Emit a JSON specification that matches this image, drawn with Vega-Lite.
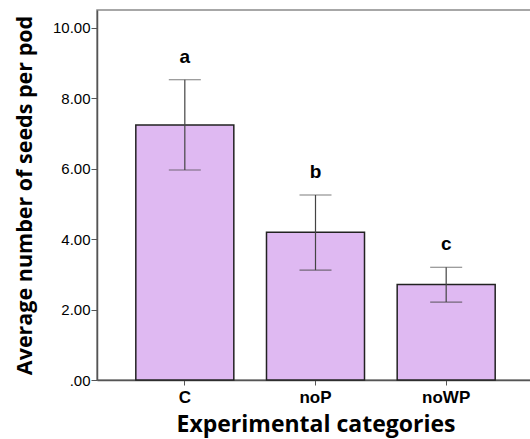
{
  "$schema": "https://vega.github.io/schema/vega-lite/v6.json",
  "autosize": {"type": "none"},
  "padding": {"left": 97, "top": 10, "right": 0, "bottom": 59},
  "width": 437,
  "height": 370,
  "background": "white",
  "config": {
    "view": {"stroke": "#8a8a8a", "strokeWidth": 1.5},
    "axis": {"grid": false}
  },
  "data": {
    "values": [
      {"category": "C", "mean": 7.24, "lo": 5.96, "hi": 8.52, "letter": "a"},
      {"category": "noP", "mean": 4.19, "lo": 3.12, "hi": 5.25, "letter": "b"},
      {"category": "noWP", "mean": 2.71, "lo": 2.21, "hi": 3.2, "letter": "c"}
    ]
  },
  "encoding": {
    "x": {
      "field": "category",
      "type": "nominal",
      "sort": null,
      "scale": {"paddingInner": 0.25, "paddingOuter": 0.297},
      "axis": {
        "title": "Experimental categories",
        "titleFont": "Open Sans",
        "titleFontWeight": "bold",
        "titleFontSize": 23,
        "titleColor": "black",
        "titlePadding": 8,
        "labelAngle": 0,
        "labelFont": "Liberation Sans",
        "labelFontWeight": "bold",
        "labelFontSize": 17,
        "labelColor": "black",
        "labelPadding": 4,
        "tickSize": 5,
        "tickColor": "#555",
        "domainColor": "#555",
        "domainWidth": 1.5
      }
    }
  },
  "layer": [
    {
      "mark": {"type": "bar", "fill": "#dfb9f2", "stroke": "#222", "strokeWidth": 1.5},
      "encoding": {
        "y": {
          "field": "mean",
          "type": "quantitative",
          "scale": {"domain": [0, 10.5], "nice": false},
          "axis": {
            "title": "Average number of seeds per pod",
            "titleFont": "Open Sans",
            "titleFontWeight": "bold",
            "titleFontSize": 21.5,
            "titleColor": "black",
            "titlePadding": 16,
            "values": [0, 2, 4, 6, 8, 10],
            "labelExpr": "datum.value == 0 ? '.00' : format(datum.value, '.2f')",
            "labelFont": "Liberation Sans",
            "labelFontSize": 15,
            "labelColor": "black",
            "labelPadding": 1,
            "tickSize": 6,
            "tickColor": "#555",
            "domainColor": "#555",
            "domainWidth": 1.5
          }
        }
      }
    },
    {
      "mark": {"type": "rule", "color": "#444", "strokeWidth": 1.2},
      "encoding": {
        "y": {"field": "lo", "type": "quantitative"},
        "y2": {"field": "hi"}
      }
    },
    {
      "mark": {"type": "tick", "color": "#444", "thickness": 1.2, "size": 32},
      "encoding": {"y": {"field": "hi", "type": "quantitative"}}
    },
    {
      "mark": {"type": "tick", "color": "#444", "thickness": 1.2, "size": 32},
      "encoding": {"y": {"field": "lo", "type": "quantitative"}}
    },
    {
      "mark": {"type": "text", "font": "Liberation Sans", "fontWeight": "bold", "fontSize": 19, "baseline": "middle", "dy": -23, "color": "black"},
      "encoding": {
        "y": {"field": "hi", "type": "quantitative"},
        "text": {"field": "letter"}
      }
    }
  ]
}
